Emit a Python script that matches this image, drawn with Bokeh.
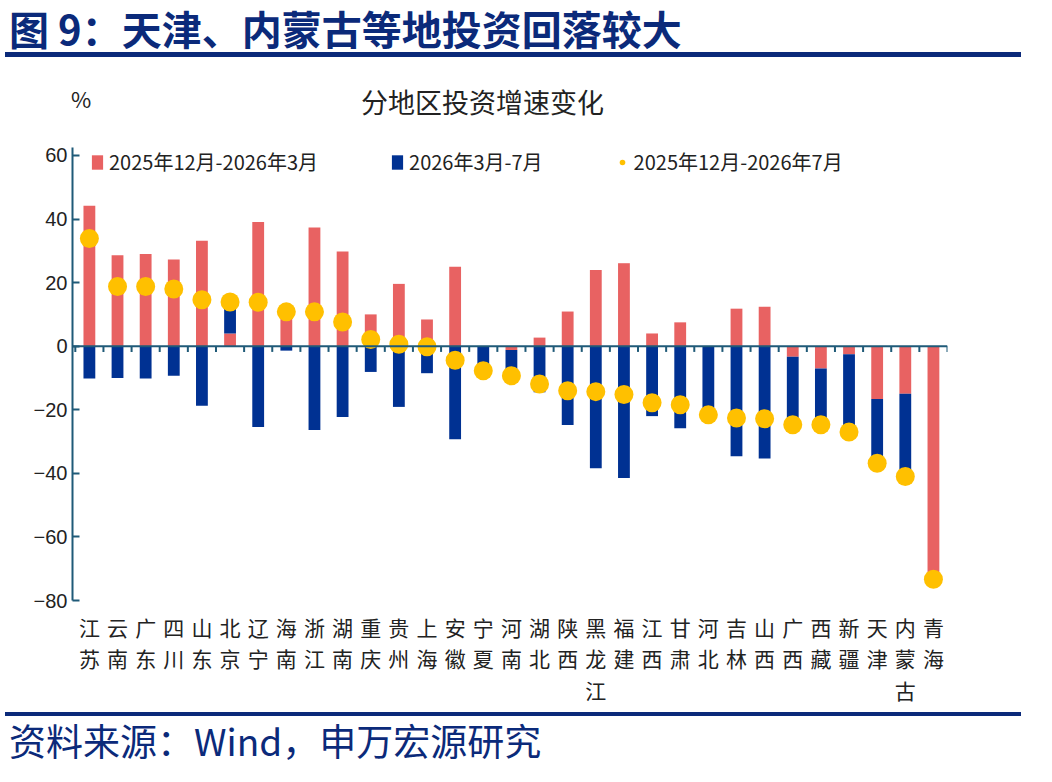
import numpy as np
from bokeh.embed import file_html
from bokeh.resources import INLINE
from bokeh.layouts import column
from bokeh.models import ColumnDataSource, Div, Legend, LegendItem, Range1d, Span, FixedTicker
from bokeh.plotting import figure

regions = ["江苏", "云南", "广东", "四川", "山东", "北京", "辽宁", "海南", "浙江", "湖南",
           "重庆", "贵州", "上海", "安徽", "宁夏", "河南", "湖北", "陕西", "黑龙江", "福建",
           "江西", "甘肃", "河北", "吉林", "山西", "广西", "西藏", "新疆", "天津", "内蒙古", "青海"]
dec_mar = [44.2, 28.6, 29.0, 27.3, 33.2, 4.0, 39.1, 10.0, 37.3, 29.8,
           10.0, 19.6, 8.4, 25.0, 0.0, -1.2, 2.7, 10.9, 24.0, 26.1,
           4.0, 7.5, 0.0, 11.8, 12.4, -3.3, -7.0, -2.5, -16.6, -15.0, -73.3]
mar_jul = [-10.2, -10.0, -10.2, -9.3, -18.7, 7.8, -25.4, -1.4, -26.4, -22.3,
           -8.1, -19.1, -8.5, -29.3, -6.3, -6.1, -14.5, -24.8, -38.4, -41.5,
           -22.0, -25.8, -21.3, -34.6, -35.3, -21.4, -17.7, -24.5, -20.2, -26.0, 0.0]
dec_jul = [33.9, 18.8, 18.8, 18.0, 14.6, 13.9, 13.8, 10.8, 10.8, 7.6,
           2.1, 0.6, -0.2, -4.4, -7.7, -9.3, -11.9, -14.0, -14.3, -15.2,
           -17.8, -18.4, -21.6, -22.6, -22.8, -24.7, -24.7, -27.0, -36.8, -41.0, -73.3]

RED = "#e86262"
BLUE = "#003192"
YELLOW = "#ffc000"
AXIS = "#1f5a78"
FONT = "Noto Sans CJK SC"

a = np.array(dec_mar)
b = np.array(mar_jul)
x = np.arange(len(regions))
# Excel-style stacking: positives up, negatives down
a_bot = np.zeros(len(a))
a_top = a
b_bot = np.where((b >= 0) == (a >= 0), a, 0.0)
b_top = b_bot + b

src = ColumnDataSource(dict(x=x, a_bot=a_bot, a_top=a_top, b_bot=b_bot, b_top=b_top, d=dec_jul))

p = figure(width=1036, height=562, output_backend="svg", toolbar_location=None,
           x_range=Range1d(-0.6, 30.5), y_range=Range1d(-80, 62.5),
           min_border_top=2, min_border_left=72, min_border_right=89, min_border_bottom=100)
p.outline_line_color = None
p.grid.grid_line_color = None

r1 = p.vbar(x="x", bottom="a_bot", top="a_top", width=0.42, source=src, fill_color=RED, line_color=None)
r2 = p.vbar(x="x", bottom="b_bot", top="b_top", width=0.42, source=src, fill_color=BLUE, line_color=None)
r3 = p.scatter(x="x", y="d", size=19, source=src, fill_color=YELLOW, line_color=None)

p.add_layout(Span(location=0, dimension="width", line_color=AXIS, line_width=2))
edges = np.arange(len(regions) + 1) - 0.5
p.segment(x0=edges, y0=np.zeros(len(edges)), x1=edges, y1=np.full(len(edges), -1.8),
          line_color=AXIS, line_width=2)

p.xaxis.ticker = FixedTicker(ticks=list(x))
p.xaxis.major_label_overrides = {int(i): "\n".join(list(r)) for i, r in zip(x, regions)}
p.xaxis.axis_line_color = None
p.xaxis.major_tick_line_color = None
p.xaxis.minor_tick_line_color = None
p.xaxis.major_label_text_font = FONT
p.xaxis.major_label_text_font_size = "21px"
p.xaxis.major_label_text_color = "#222222"
p.xaxis.major_label_text_line_height = 1.05

p.yaxis.ticker = FixedTicker(ticks=list(range(-80, 61, 20)))
p.yaxis.axis_line_color = AXIS
p.yaxis.axis_line_width = 2
p.yaxis.major_tick_line_color = AXIS
p.yaxis.major_tick_line_width = 2
p.yaxis.major_tick_in = 7
p.yaxis.major_tick_out = 0
p.yaxis.minor_tick_line_color = None
p.yaxis.major_label_text_font = "Liberation Sans"
p.yaxis.major_label_text_font_size = "20px"
p.yaxis.major_label_text_color = "#222222"

legend = Legend(items=[LegendItem(label="2025年12月-2026年3月", renderers=[r1]),
                       LegendItem(label="2026年3月-7月", renderers=[r2]),
                       LegendItem(label="2025年12月-2026年7月", renderers=[r3])],
                orientation="horizontal", location=(18, 424), spacing=72,
                label_text_font=FONT, label_text_font_size="20px", label_text_color="#222222",
                glyph_width=14, glyph_height=18, border_line_color=None, background_fill_alpha=0,
                padding=0, margin=0)
p.add_layout(legend, "center")

header = Div(text="图 9：天津、内蒙古等地投资回落较大", width=1036, height=52,
             styles={"font-family": FONT, "font-size": "40px", "font-weight": "bold",
                     "color": "#0b2a7a", "border-bottom": "5px solid #0b2a7a",
                     "width": "1016px", "line-height": "46px", "padding-left": "4px",
                     "white-space": "nowrap"})
subhead = Div(text=("<div style='position:relative;width:1036px;height:73px;"
                    "font-family:\"Noto Sans CJK SC\";color:#222'>"
                    "<span style='position:absolute;left:66px;top:16px;font-size:22px'>%</span>"
                    "<span style='position:absolute;left:356px;top:16px;font-size:27px'>"
                    "分地区投资增速变化</span></div>"),
              width=1036, height=73)
footer = Div(text="资料来源：Wind，申万宏源研究", width=1036, height=60,
             styles={"font-family": FONT, "font-size": "37px", "color": "#0b2a7a",
                     "border-top": "4px solid #0b2a7a", "width": "1016px",
                     "line-height": "48px", "padding-left": "4px", "white-space": "nowrap"})

layout = column(header, subhead, p, footer, spacing=0)
open("out.html", "w").write(file_html(layout, INLINE))
